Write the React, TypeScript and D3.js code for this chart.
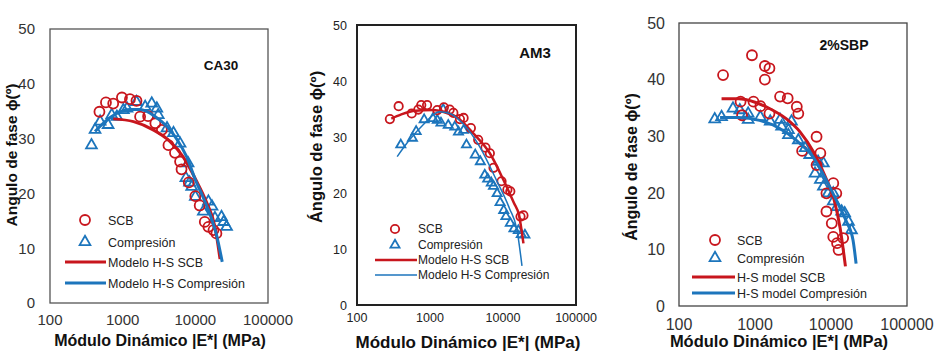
import React from "react";
import * as d3 from "d3";

// ---------- data: [E* (MPa), phase angle (deg)] ----------
const xTicks = [100, 1000, 10000, 100000];
const yTicks = [0, 10, 20, 30, 40, 50];

const ca30Scb = [[479,34.9],[589,36.6],[741,36.4],[977,37.5],[1259,37.2],[1549,36.9],[1738,34.0],[2239,34.1],[2818,32.8],[3467,31.6],[4266,28.8],[5248,27.4],[6166,25.8],[6457,24.4],[8128,22.0],[10000,19.5],[11482,17.8],[13490,14.8],[15136,13.9],[17783,13.3],[19498,12.7]];
const ca30Comp = [[372,28.8],[417,31.6],[490,33.1],[631,32.5],[708,34.3],[832,34.0],[1023,35.2],[1148,35.5],[1549,36.7],[2042,35.8],[2512,36.4],[2951,35.5],[3090,34.3],[4074,31.9],[5012,31.0],[6166,29.1],[7413,22.8],[7943,25.5],[8318,22.0],[8913,21.2],[10000,19.4],[12882,16.7],[15136,18.5],[16982,17.6],[18621,15.5],[22909,15.7],[24547,14.8],[26915,13.9]];
const ca30ModelScb = [[741,33.6],[1413,33.1],[2630,31.6],[4467,29.5],[6761,26.7],[10233,22.4],[14125,18.5],[18621,13.9],[21878,8.0]];
const ca30ModelComp = [[417,31.3],[562,33.0],[832,34.6],[1259,35.3],[1738,35.3],[2818,34.0],[4074,32.2],[5623,29.8],[7586,26.7],[10000,22.5],[12882,19.2],[16596,15.5],[19498,12.5],[23442,7.5]];

const am3Scb = [[282,33.2],[372,35.5],[562,34.2],[692,34.9],[759,35.7],[912,35.7],[1259,34.8],[1549,35.3],[1862,34.9],[2089,34.3],[2570,33.2],[2884,33.4],[3631,31.6],[4571,29.5],[5754,28.1],[6607,27.1],[7413,24.5],[9550,22.1],[11482,20.6],[12589,20.3],[17378,15.8],[19055,16.0]];
const am3Comp = [[398,28.6],[575,29.8],[646,31.0],[832,33.1],[1096,33.3],[1259,33.0],[1413,32.5],[1514,34.9],[1778,32.1],[2188,31.8],[2455,30.9],[2884,31.2],[3162,28.6],[4169,26.8],[4898,25.6],[5623,23.2],[6166,22.5],[6918,21.8],[7413,21.2],[8318,19.9],[9120,18.3],[10233,16.9],[10965,15.8],[12589,14.6],[14125,13.6],[16218,13.3],[17783,12.6],[19953,12.5]];
const am3ModelScb = [[295,33.3],[398,34.0],[631,34.7],[1096,34.8],[1585,34.4],[2291,33.6],[3890,30.7],[6607,27.1],[10000,22.5],[14125,18.2],[16596,16.0],[19055,11.0]];
const am3ModelComp = [[355,26.5],[525,29.5],[794,32.1],[1349,34.5],[1862,34.2],[2818,32.4],[4786,28.3],[8128,22.3],[12303,17.2],[15488,13.5],[18197,7.0]];

const sbpScb = [[380,40.8],[646,36.1],[676,33.7],[912,44.3],[955,36.1],[1175,35.3],[1349,42.4],[1349,40.0],[1549,42.0],[1549,34.0],[2138,37.0],[2692,36.7],[3548,35.2],[3715,34.0],[4169,27.4],[6457,29.9],[6457,24.9],[7244,27.0],[8710,19.9],[8710,16.7],[10233,14.6],[10715,21.7],[10715,12.2],[11749,19.9],[12023,11.1],[12589,9.9],[14454,12.0]];
const sbpComp = [[295,33.0],[363,33.4],[513,34.9],[631,34.6],[813,32.9],[813,34.0],[1175,33.4],[1585,32.6],[2138,32.9],[2239,31.7],[2754,31.1],[3020,32.6],[2754,30.2],[3715,29.3],[4571,27.9],[5248,26.7],[6166,23.4],[6761,25.5],[7244,22.3],[7943,25.2],[7943,21.1],[9120,19.9],[10715,19.9],[10715,18.5],[12023,17.5],[13804,16.7],[15136,16.4],[16982,14.9],[18621,13.4]];
const sbpModelScb = [[363,36.6],[603,36.6],[1000,36.0],[1549,34.9],[2570,33.1],[3890,30.8],[5888,27.2],[8318,23.0],[10965,18.8],[13183,13.8],[15488,7.0]];
const sbpModelComp = [[347,33.3],[603,33.3],[1148,32.8],[2089,31.4],[3467,29.3],[5754,26.4],[8710,22.2],[11749,18.7],[15849,15.0],[19498,11.6],[21380,7.5]];

const RED = "#C8161D";
const BLUE = "#1C75BC";
const FONT = "Arial, 'Liberation Sans', sans-serif";

type Pt = number[];

function Panel(p: any) {
  const x = d3.scaleLog().domain([100, 100000]).range([p.x0, p.x1]);
  const y = d3.scaleLinear().domain([0, 50]).range([p.y1, p.y0]);
  const line = d3
    .line<Pt>()
    .x((d) => x(d[0]))
    .y((d) => y(d[1]))
    .curve(d3.curveMonotoneX);
  const tri = d3.symbol().type(d3.symbolTriangle).size(p.triSize)() as string;
  const L = p.legend;
  return (
    <g>
      <rect x={p.x0} y={p.y0} width={p.x1 - p.x0} height={p.y1 - p.y0} fill="none" stroke={p.frameColor} strokeWidth={p.frameW} />
      {yTicks.map((t) => (
        <text key={"y" + t} x={p.yTickX} y={y(t) + p.yTickFont * 0.36} textAnchor="end" fontSize={p.yTickFont} fill={p.tickColor} fontFamily={FONT}>
          {t}
        </text>
      ))}
      {xTicks.map((t) => (
        <text key={"x" + t} x={x(t)} y={p.xTickY} textAnchor="middle" fontSize={p.xTickFont} fill={p.tickColor} fontFamily={FONT}>
          {t}
        </text>
      ))}
      <text x={p.xTitleX} y={p.xTitleY} textAnchor="middle" fontSize={p.xTitleFont} fontWeight="bold" fontFamily={FONT} fill="#111">
        Módulo Dinámico |E*| (MPa)
      </text>
      <text transform={`translate(${p.yTitleX},${p.yTitleY}) rotate(-90)`} textAnchor="middle" fontSize={p.yTitleFont} fontWeight="bold" fontFamily={FONT} fill="#111">
        {p.yTitle}
      </text>
      <text x={p.titleX} y={p.titleY} textAnchor="middle" fontSize={p.titleFont} fontWeight="bold" fontFamily={FONT} fill="#111">
        {p.title}
      </text>
      {p.comp.map((d: Pt, i: number) => (
        <path key={"c" + i} d={tri} transform={`translate(${x(d[0])},${y(d[1])})`} fill="none" stroke={BLUE} strokeWidth={p.markW} />
      ))}
      {p.scb.map((d: Pt, i: number) => (
        <circle key={"s" + i} cx={x(d[0])} cy={y(d[1])} r={p.r} fill="none" stroke={RED} strokeWidth={p.markW} />
      ))}
      <path d={line(p.modelScb) as string} fill="none" stroke={RED} strokeWidth={p.lineW[0]} />
      <path d={line(p.modelComp) as string} fill="none" stroke={BLUE} strokeWidth={p.lineW[1]} />
      {/* legend */}
      <circle cx={L.mx} cy={L.ys[0]} r={p.r} fill="white" stroke={RED} strokeWidth={p.markW} />
      <path d={tri} transform={`translate(${L.mx},${L.ys[1]})`} fill="white" stroke={BLUE} strokeWidth={p.markW} />
      <line x1={L.lx0} x2={L.lx1} y1={L.ys[2]} y2={L.ys[2]} stroke={RED} strokeWidth={p.lineW[0]} />
      <line x1={L.lx0} x2={L.lx1} y1={L.ys[3]} y2={L.ys[3]} stroke={BLUE} strokeWidth={p.lineW[1]} />
      {L.labels.map((s: string, i: number) => (
        <text key={"l" + i} x={L.tx} y={L.ys[i] + L.font * 0.36} fontSize={L.font} fontFamily={FONT} fill="#222">
          {s}
        </text>
      ))}
    </g>
  );
}

const panels = [
  {
    x0: 50, x1: 268, y0: 29, y1: 303,
    yTickX: 35, yTickFont: 15, xTickY: 325, xTickFont: 15, tickColor: "#333",
    xTitleX: 160, xTitleY: 346, xTitleFont: 16,
    yTitleX: 17, yTitleY: 155, yTitleFont: 15.5, yTitle: "Angulo de fase ϕ(º)",
    title: "CA30", titleX: 221, titleY: 70, titleFont: 13.5,
    frameColor: "#555", frameW: 1.3,
    r: 5, triSize: 50, markW: 1.8, lineW: [3, 3],
    scb: ca30Scb, comp: ca30Comp, modelScb: ca30ModelScb, modelComp: ca30ModelComp,
    legend: { mx: 85, tx: 108, ys: [220, 242, 262, 283], lx0: 65, lx1: 106, font: 12.5,
      labels: ["SCB", "Compresión", "Modelo H-S SCB", "Modelo H-S Compresión"] },
  },
  {
    x0: 357, x1: 576, y0: 25, y1: 305,
    yTickX: 347, yTickFont: 12.5, xTickY: 322, xTickFont: 12.5, tickColor: "#222",
    xTitleX: 468, xTitleY: 348, xTitleFont: 17,
    yTitleX: 322, yTitleY: 147, yTitleFont: 16.5, yTitle: "Ángulo de fase ϕ(º)",
    title: "AM3", titleX: 535, titleY: 58, titleFont: 15,
    frameColor: "#222", frameW: 2,
    r: 4.2, triSize: 36, markW: 1.8, lineW: [2.5, 1.5],
    scb: am3Scb, comp: am3Comp, modelScb: am3ModelScb, modelComp: am3ModelComp,
    legend: { mx: 395, tx: 418, ys: [229, 245, 260, 275], lx0: 375, lx1: 417, font: 12,
      labels: ["SCB", "Compresión", " Modelo H-S SCB", "Modelo H-S Compresión"] },
  },
  {
    x0: 679, x1: 907, y0: 23, y1: 306,
    yTickX: 665, yTickFont: 16, xTickY: 330, xTickFont: 16, tickColor: "#333",
    xTitleX: 779, xTitleY: 347, xTitleFont: 16.5,
    yTitleX: 637, yTitleY: 167, yTitleFont: 16, yTitle: "Ángulo de fase ϕ(º)",
    title: "2%SBP", titleX: 844, titleY: 50, titleFont: 14,
    frameColor: "#444", frameW: 1.3,
    r: 5, triSize: 50, markW: 1.8, lineW: [3, 3],
    scb: sbpScb, comp: sbpComp, modelScb: sbpModelScb, modelComp: sbpModelComp,
    legend: { mx: 715, tx: 737, ys: [240, 258, 277, 293], lx0: 692, lx1: 735, font: 12.5,
      labels: ["SCB", "Compresión", "H-S model SCB", "H-S model Compresión"] },
  },
];

export default function App() {
  return (
    <svg width={945} height={359} style={{ position: "absolute", left: 0, top: 0, background: "white" }}>
      <rect width={945} height={359} fill="white" />
      {panels.map((p, i) => (
        <Panel key={i} {...p} />
      ))}
    </svg>
  );
}
